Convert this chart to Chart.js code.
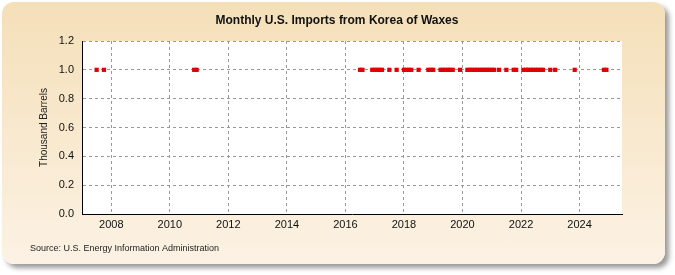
<!DOCTYPE html>
<html><head><meta charset="utf-8">
<script src="https://cdn.jsdelivr.net/npm/chart.js@4"></script>
<style>
html,body{margin:0;padding:0;background:#fff;width:675px;height:275px;overflow:hidden}
#panel{position:absolute;left:2px;top:2px;width:663px;height:262px;border-radius:12px;background:linear-gradient(#f4dfb8,#fcf2e4);box-shadow:4px 4px 5px rgba(0,0,0,0.4);}
#wrap{position:absolute;left:0;top:0;width:675px;height:275px}
</style></head><body>
<div id="panel"></div>
<div id="wrap"><canvas id="c" width="675" height="275"></canvas></div>
<script>
const chartTitle = "Monthly U.S. Imports from Korea of Waxes";
const sourceText = "Source: U.S. Energy Information Administration";
const yAxisTitle = "Thousand Barrels";
const importMonths = [
  "2007-07","2007-10",
  "2010-11","2010-12",
  "2016-07","2016-08",
  "2016-12","2017-01","2017-02","2017-03","2017-04","2017-07",
  "2017-10",
  "2018-01","2018-02","2018-03","2018-04",
  "2018-07",
  "2018-11","2018-12","2019-01",
  "2019-04","2019-05","2019-06","2019-07","2019-08","2019-09",
  "2019-12",
  "2020-03","2020-04","2020-05","2020-06","2020-07","2020-08","2020-09","2020-10","2020-11","2020-12","2021-01","2021-02",
  "2021-04","2021-07","2021-10","2021-11",
  "2022-02","2022-03","2022-04","2022-05","2022-06","2022-07","2022-08","2022-09","2022-10",
  "2023-01","2023-03",
  "2023-11",
  "2024-11","2024-12"
];
const importValues = importMonths.map(() => 1.0);
const tickYears = [2008,2010,2012,2014,2016,2018,2020,2022,2024];
const yTickValues = [0,0.2,0.4,0.6,0.8,1.0,1.2];

const points = importMonths.map((m, i) => {
  const [y, mo] = m.split("-").map(Number);
  return { x: y + (mo - 1) / 12, y: importValues[i] };
});

const deco = {
  id: "deco",
  beforeDraw(chart) {
    const { ctx, chartArea: a } = chart;
    ctx.save();
    ctx.fillStyle = "#ffffff";
    ctx.fillRect(a.left, a.top, a.right - a.left, a.bottom - a.top);
    ctx.restore();
  },
  afterDraw(chart) {
    const { ctx } = chart;
    ctx.save();
    ctx.fillStyle = "#111";
    ctx.font = "bold 12px 'Liberation Sans', Arial, sans-serif";
    ctx.textAlign = "center";
    ctx.textBaseline = "middle";
    ctx.fillText(chartTitle, 337, 21);
    ctx.font = "9px 'Liberation Sans', Arial, sans-serif";
    ctx.textAlign = "left";
    ctx.fillStyle = "#222";
    ctx.fillText(sourceText, 30, 249);
    ctx.restore();
  }
};

new Chart(document.getElementById("c"), {
  type: "scatter",
  data: {
    datasets: [{
      data: points,
      showLine: false,
      pointStyle: "rect",
      pointRadius: 3,
      pointHoverRadius: 3,
      backgroundColor: "#e00000",
      borderColor: "#e00000",
      borderWidth: 0
    }]
  },
  options: {
    responsive: false,
    animation: false,
    events: [],
    layout: { padding: { left: 38, right: 53, top: 41, bottom: 0 } },
    plugins: { legend: { display: false }, title: { display: false }, tooltip: { enabled: false } },
    scales: {
      x: {
        type: "linear",
        min: 2007.0,
        max: 2025.45,
        afterFit(s) { s.height = 61; },
        afterBuildTicks(s) { s.ticks = tickYears.map(v => ({ value: v })); },
        ticks: { callback: v => String(v), color: "#111", font: { size: 11, family: "'Liberation Sans', Arial, sans-serif" }, padding: 4, maxRotation: 0, autoSkip: false },
        grid: { color: "#999999", drawTicks: false, lineWidth: 1 },
        border: { display: true, color: "#000", width: 1, dash: [3, 3] }
      },
      y: {
        min: 0,
        max: 1.2,
        afterFit(s) { s.width = 44; },
        afterBuildTicks(s) { s.ticks = yTickValues.map(v => ({ value: v })); },
        ticks: { callback: v => v.toFixed(1), color: "#111", font: { size: 11, family: "'Liberation Sans', Arial, sans-serif" }, padding: 8 },
        grid: { color: "#999999", drawTicks: false, lineWidth: 1 },
        border: { display: true, color: "#000", width: 1, dash: [3, 3] },
        title: { display: true, text: yAxisTitle, color: "#222", font: { size: 10, family: "'Liberation Sans', Arial, sans-serif" }, padding: 0 }
      }
    }
  },
  plugins: [deco]
});
</script>
</body></html>
